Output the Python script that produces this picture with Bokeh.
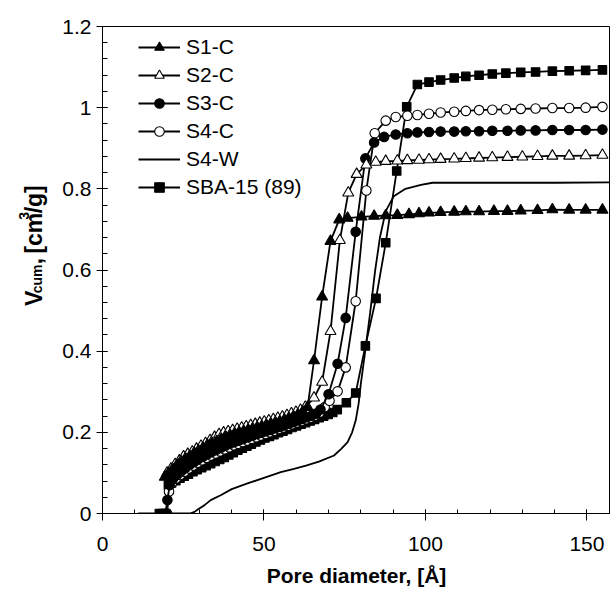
import math
from bokeh.plotting import figure
from bokeh.layouts import row
from bokeh.models import (Legend, LegendItem, SingleIntervalTicker,
                          CustomJSTickFormatter, Range1d)
from bokeh.core.properties import value
from bokeh.embed import file_html
from bokeh.resources import INLINE

# ---------------- data ----------------
s1c_x = [19.3, 20.6, 21.9, 23.2, 24.5, 25.8, 27.1, 28.5, 29.8, 31.2, 32.6, 34.0, 35.4, 36.8,
         38.2, 39.6, 41.0, 42.4, 43.8, 45.2, 46.6, 48.0, 49.4, 50.8, 52.2, 53.6, 55.0, 56.4,
         57.8, 59.2, 60.6, 62.1, 63.5, 65.5, 68.0, 70.6, 73.3, 75.9, 80.2, 84.1, 87.7, 91.3,
         94.9, 98.0, 101.1, 104.7, 108.9, 112.5, 116.6, 121.2, 125.4, 129.5, 134.7, 139.3,
         144.5, 149.6, 154.8]
s1c_y = [0.090, 0.098, 0.108, 0.118, 0.127, 0.134, 0.141, 0.148, 0.154, 0.161, 0.167, 0.173,
         0.178, 0.183, 0.188, 0.192, 0.196, 0.199, 0.202, 0.205, 0.208, 0.211, 0.214, 0.217,
         0.220, 0.223, 0.226, 0.230, 0.234, 0.238, 0.243, 0.250, 0.262, 0.377, 0.534, 0.671,
         0.724, 0.728, 0.731, 0.733, 0.734, 0.735, 0.737, 0.739, 0.741, 0.742, 0.743, 0.744,
         0.744, 0.745, 0.745, 0.746, 0.747, 0.749, 0.748, 0.748, 0.748]

s2c_x = [20.0, 21.2, 22.5, 23.8, 25.1, 26.4, 27.8, 29.1, 30.5, 31.9, 33.3, 34.7, 36.1, 37.5,
         38.9, 40.3, 41.7, 43.1, 44.5, 45.9, 47.3, 48.7, 50.1, 51.5, 52.9, 54.3, 55.7, 57.1,
         58.5, 59.9, 61.3, 62.8, 65.5, 68.0, 70.6, 73.5, 76.1, 78.7, 81.7, 84.6, 87.7, 91.3,
         94.4, 98.0, 101.1, 104.7, 108.9, 112.5, 116.6, 120.7, 125.4, 130.0, 134.7, 139.3,
         144.5, 149.6, 154.8]
s2c_y = [0.100, 0.110, 0.121, 0.130, 0.140, 0.146, 0.152, 0.159, 0.166, 0.173, 0.180, 0.188,
         0.195, 0.199, 0.202, 0.205, 0.208, 0.211, 0.214, 0.217, 0.220, 0.223, 0.226, 0.229,
         0.232, 0.235, 0.238, 0.242, 0.246, 0.250, 0.255, 0.262, 0.285, 0.324, 0.449, 0.673,
         0.790, 0.836, 0.859, 0.866, 0.868, 0.869, 0.870, 0.871, 0.872, 0.873, 0.874, 0.875,
         0.876, 0.877, 0.878, 0.879, 0.880, 0.881, 0.881, 0.882, 0.883]

s3c_x = [19.7, 20.1, 20.8, 21.8, 23.1, 24.4, 25.7, 27.0, 28.4, 29.7, 31.1, 32.5, 33.9, 35.3,
         36.7, 38.1, 39.5, 40.9, 42.3, 43.7, 45.1, 46.5, 47.9, 49.3, 50.7, 52.1, 53.5, 54.9,
         56.3, 57.7, 59.1, 60.5, 61.9, 63.3, 64.7, 66.1, 67.5, 70.0, 72.8, 75.3, 78.4, 81.4,
         84.1, 87.2, 90.8, 94.4, 97.5, 101.1, 104.7, 108.9, 112.5, 116.6, 120.7, 125.4, 129.5,
         134.1, 139.3, 144.5, 149.6, 154.8]
s3c_y = [0.000, 0.033, 0.070, 0.085, 0.095, 0.104, 0.112, 0.120, 0.127, 0.134, 0.140, 0.146,
         0.152, 0.157, 0.162, 0.167, 0.172, 0.176, 0.180, 0.184, 0.188, 0.192, 0.196, 0.199,
         0.203, 0.206, 0.210, 0.213, 0.217, 0.221, 0.225, 0.229, 0.233, 0.237, 0.241, 0.246,
         0.256, 0.294, 0.369, 0.482, 0.694, 0.875, 0.914, 0.928, 0.934, 0.937, 0.939, 0.940,
         0.941, 0.941, 0.942, 0.942, 0.943, 0.943, 0.944, 0.944, 0.945, 0.945, 0.945, 0.946]

s4c_x = [20.0, 20.6, 21.5, 22.8, 24.1, 25.4, 26.7, 28.1, 29.4, 30.8, 32.2, 33.6, 35.0, 36.4,
         37.8, 39.2, 40.6, 42.0, 43.4, 44.8, 46.2, 47.6, 49.0, 50.4, 51.8, 53.2, 54.6, 56.0,
         57.4, 58.8, 60.2, 61.6, 63.0, 64.4, 65.8, 67.2, 68.8, 70.3, 72.8, 75.3, 78.4, 81.7,
         84.3, 87.7, 90.8, 94.4, 97.5, 101.1, 104.7, 108.9, 112.5, 116.6, 120.7, 124.9, 129.5,
         134.1, 139.3, 144.5, 149.6, 154.8]
s4c_y = [0.000, 0.054, 0.075, 0.086, 0.095, 0.103, 0.111, 0.118, 0.125, 0.131, 0.137, 0.143,
         0.148, 0.153, 0.158, 0.163, 0.168, 0.172, 0.176, 0.180, 0.184, 0.188, 0.192, 0.196,
         0.200, 0.204, 0.208, 0.212, 0.216, 0.220, 0.224, 0.228, 0.232, 0.236, 0.241, 0.248,
         0.262, 0.278, 0.301, 0.360, 0.523, 0.796, 0.937, 0.968, 0.977, 0.980, 0.982, 0.985,
         0.988, 0.990, 0.992, 0.994, 0.995, 0.996, 0.997, 0.998, 0.999, 0.999, 1.000, 1.002]

s4w_x = [11.0, 27.0, 28.5, 29.5, 31.5, 33.5, 36.6, 40.0, 44.9, 50.0, 55.2, 59.3, 63.0, 67.0,
         71.7, 74.0, 75.9, 77.3, 78.4, 79.3, 80.0, 81.1, 82.9, 84.4, 85.9, 87.7, 90.2, 93.8,
         98.6, 102.2, 120.0, 140.0, 157.6]
s4w_y = [0.000, 0.000, 0.004, 0.010, 0.020, 0.033, 0.045, 0.060, 0.074, 0.088, 0.102, 0.110,
         0.118, 0.128, 0.143, 0.160, 0.176, 0.200, 0.229, 0.270, 0.320, 0.385, 0.496, 0.597,
         0.680, 0.745, 0.782, 0.800, 0.810, 0.815, 0.815, 0.815, 0.816]

sba_x = [17.6, 18.6, 19.6, 20.4, 21.4, 22.7, 24.0, 25.3, 26.6, 28.0, 29.3, 30.7, 32.1, 33.5,
         34.9, 36.3, 37.7, 39.1, 40.5, 41.9, 43.3, 44.7, 46.1, 47.5, 48.9, 50.3, 51.7, 53.1,
         54.5, 55.9, 57.3, 58.7, 60.1, 61.5, 62.9, 64.3, 65.7, 67.1, 68.5, 69.9, 71.3, 72.7,
         75.5, 78.4, 81.4, 84.7, 87.7, 91.1, 94.2, 97.5, 101.1, 104.7, 108.9, 112.5, 116.6,
         120.7, 124.9, 129.5, 134.1, 139.3, 144.5, 149.6, 154.8]
sba_y = [0.000, 0.000, 0.000, 0.070, 0.075, 0.081, 0.087, 0.092, 0.097, 0.103, 0.108, 0.113,
         0.118, 0.123, 0.128, 0.133, 0.138, 0.144, 0.150, 0.156, 0.161, 0.166, 0.171, 0.176,
         0.181, 0.186, 0.190, 0.194, 0.199, 0.203, 0.207, 0.212, 0.216, 0.220, 0.224, 0.228,
         0.232, 0.236, 0.240, 0.244, 0.249, 0.256, 0.273, 0.297, 0.413, 0.530, 0.667, 0.844,
         1.002, 1.057, 1.063, 1.068, 1.073, 1.077, 1.080, 1.083, 1.085, 1.087, 1.088, 1.090,
         1.091, 1.092, 1.093]

labels = ["S1-C", "S2-C", "S3-C", "S4-C", "S4-W", "SBA-15 (89)"]
x_title = "Pore diameter, [Å]"
# y title pieces: (text, role, gap before in spaces)
y_title_parts = [("V", "main", 0), ("cum", "sub", 0), (",", "main", 1), ("[cm", "main", 1),
                 ("3", "sup", 0), ("/g]", "main", 0)]

FONT = "Liberation Sans"
TOTAL_W, TOTAL_H = 610, 589
TITLE_W = 58

# ---------------- main figure ----------------
p = figure(width=TOTAL_W - TITLE_W, height=TOTAL_H, output_backend="svg", toolbar_location=None,
           x_range=Range1d(0, 157.3), y_range=Range1d(0, 1.2000001),
           min_border_left=102 - TITLE_W, min_border_right=0, min_border_top=26,
           min_border_bottom=75,
           background_fill_color="white", border_fill_color="white")
p.outline_line_color = "black"
p.outline_line_width = 1
p.xgrid.visible = False
p.ygrid.visible = False

xa = p.xaxis[0]
xa.ticker = SingleIntervalTicker(interval=50, num_minor_ticks=5)
xa.major_tick_in = 4
xa.major_tick_out = 7
xa.minor_tick_in = 4
xa.minor_tick_out = 0
xa.major_label_standoff = 16
xa.major_label_text_font = FONT
xa.major_label_text_font_size = "21px"
xa.major_label_text_color = "black"
xa.axis_label = x_title
xa.axis_label_text_font = FONT
xa.axis_label_text_font_style = "bold"
xa.axis_label_text_font_size = "21px"
xa.axis_label_text_color = "black"
xa.axis_label_standoff = 10
xa.axis_line_color = "black"
xa.major_tick_line_color = "black"
xa.minor_tick_line_color = "black"

ya = p.yaxis[0]
ya.ticker = SingleIntervalTicker(interval=0.2, num_minor_ticks=5)
ya.formatter = CustomJSTickFormatter(code="return String(Number(tick.toFixed(2)));")
ya.major_tick_in = 5
ya.major_tick_out = 6
ya.minor_tick_in = 5
ya.minor_tick_out = 0
ya.major_label_standoff = 5
ya.major_label_text_font = FONT
ya.major_label_text_font_size = "21px"
ya.major_label_text_color = "black"
ya.axis_line_color = "black"
ya.major_tick_line_color = "black"
ya.minor_tick_line_color = "black"

LW = 1.8
items = []

def series(xs, ys, marker, fill, size, label):
    r1 = p.line(xs, ys, line_color="black", line_width=LW)
    rs = [r1]
    if marker is not None:
        r2 = p.scatter(xs, ys, marker=marker, size=size, fill_color=fill,
                       line_color="black", line_width=1.1)
        rs.append(r2)
    items.append(LegendItem(label=label, renderers=rs))

series(s4w_x, s4w_y, None, None, 0, labels[4])
series(sba_x, sba_y, "square", "black", 8.5, labels[5])
series(s4c_x, s4c_y, "circle", "white", 9.5, labels[3])
series(s3c_x, s3c_y, "circle", "black", 9.5, labels[2])
series(s2c_x, s2c_y, "triangle", "white", 11, labels[1])
series(s1c_x, s1c_y, "triangle", "black", 11, labels[0])

order = {lab: i for i, lab in enumerate(labels)}
items.sort(key=lambda it: order[it.label.value])

legend = Legend(items=items, location=(36, 314), padding=0, margin=0,
                border_line_color=None, background_fill_alpha=0,
                glyph_width=42, glyph_height=24, label_height=24, label_standoff=6,
                spacing=4, label_text_font=FONT, label_text_font_size="21px",
                label_text_color="black")
p.add_layout(legend, "center")

# ---------------- y-axis title as a narrow text panel ----------------
t = figure(width=TITLE_W, height=TOTAL_H, output_backend="svg", toolbar_location=None,
           x_range=Range1d(0, TITLE_W), y_range=Range1d(0, TOTAL_H),
           min_border=0, background_fill_color="white", border_fill_color="white")
t.axis.visible = False
t.grid.visible = False
t.outline_line_color = None

sizes = {"main": 23, "sub": 14, "sup": 14}
base_x = {"main": 33, "sub": 36, "sup": 23.5}
char_w = {"V": 0.667, "c": 0.556, "u": 0.611, "m": 0.889, " ": 0.278, ",": 0.278,
          "[": 0.333, "3": 0.556, "/": 0.278, "g": 0.611, "]": 0.333}
pos = TOTAL_H - 338.0
for txt, role, gap in y_title_parts:
    fs = sizes[role]
    pos += gap * char_w[" "] * fs
    t.text(x=[base_x[role]], y=[pos], text=[txt], angle=math.pi / 2,
           text_align="left", text_baseline="alphabetic",
           text_font=value(FONT), text_font_style="bold",
           text_font_size=f"{fs}px", text_color="black")
    pos += sum(char_w[c] for c in txt) * fs

layout = row(t, p, spacing=0)
open("out.html", "w").write(file_html(layout, INLINE))
